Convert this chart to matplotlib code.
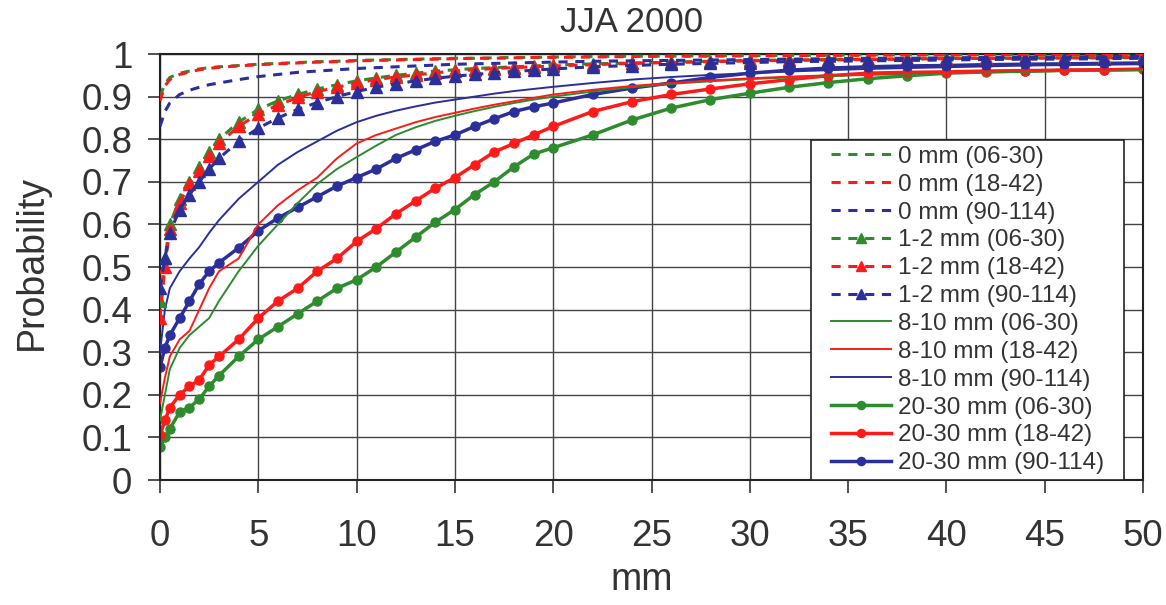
import matplotlib
matplotlib.use("Agg")
import matplotlib.pyplot as plt
from matplotlib.patches import Rectangle

plt.rcParams['font.family'] = ['Liberation Sans', 'DejaVu Sans']

x_mm = [0, 0.25, 0.5, 1, 1.5, 2, 2.5, 3, 4, 5, 6, 7, 8, 9, 10, 11, 12, 13, 14, 15,
        16, 17, 18, 19, 20, 22, 24, 26, 28, 30, 32, 34, 36, 38, 40, 42, 44, 46, 48, 50]

p0_0630 = [0.900, 0.930, 0.945, 0.955, 0.960, 0.965, 0.968, 0.970, 0.973, 0.976, 0.978, 0.980,
           0.982, 0.983, 0.985, 0.986, 0.987, 0.988, 0.989, 0.990, 0.990, 0.991, 0.992, 0.992,
           0.993, 0.994, 0.995, 0.995, 0.996, 0.996, 0.997, 0.997, 0.998, 0.998, 0.998, 0.999,
           0.999, 0.999, 0.999, 1.000]
p0_1842 = [0.890, 0.925, 0.940, 0.952, 0.958, 0.963, 0.966, 0.969, 0.972, 0.975, 0.977, 0.979,
           0.981, 0.982, 0.984, 0.985, 0.986, 0.987, 0.988, 0.989, 0.990, 0.990, 0.991, 0.992,
           0.992, 0.993, 0.994, 0.995, 0.995, 0.996, 0.996, 0.997, 0.997, 0.998, 0.998, 0.998,
           0.999, 0.999, 0.999, 1.000]
p0_90114 = [0.830, 0.865, 0.885, 0.905, 0.915, 0.922, 0.928, 0.932, 0.940, 0.947, 0.952, 0.957,
            0.960, 0.963, 0.966, 0.968, 0.970, 0.972, 0.974, 0.976, 0.977, 0.978, 0.979, 0.980,
            0.981, 0.983, 0.984, 0.985, 0.986, 0.987, 0.988, 0.989, 0.990, 0.990, 0.991, 0.992,
            0.993, 0.993, 0.994, 0.995]

p12_0630 = [0.420, 0.520, 0.600, 0.660, 0.700, 0.735, 0.770, 0.800, 0.840, 0.870, 0.890, 0.905,
            0.918, 0.928, 0.937, 0.944, 0.950, 0.955, 0.960, 0.963, 0.966, 0.968, 0.970, 0.972,
            0.974, 0.977, 0.979, 0.981, 0.983, 0.985, 0.986, 0.987, 0.988, 0.989, 0.990, 0.990,
            0.991, 0.991, 0.992, 0.992]
p12_1842 = [0.380, 0.500, 0.590, 0.650, 0.695, 0.725, 0.760, 0.790, 0.830, 0.860, 0.880, 0.898,
            0.912, 0.922, 0.932, 0.940, 0.946, 0.951, 0.956, 0.960, 0.963, 0.966, 0.968, 0.970,
            0.972, 0.975, 0.978, 0.980, 0.982, 0.984, 0.985, 0.986, 0.987, 0.988, 0.989, 0.990,
            0.990, 0.991, 0.991, 0.992]
p12_90114 = [0.450, 0.520, 0.580, 0.635, 0.670, 0.700, 0.730, 0.755, 0.795, 0.826, 0.850, 0.870,
             0.886, 0.900, 0.912, 0.922, 0.930, 0.937, 0.943, 0.948, 0.952, 0.956, 0.959, 0.962,
             0.965, 0.970, 0.973, 0.976, 0.978, 0.980, 0.982, 0.983, 0.984, 0.985, 0.986, 0.987,
             0.988, 0.988, 0.989, 0.990]

p810_0630 = [0.140, 0.200, 0.260, 0.310, 0.340, 0.360, 0.380, 0.420, 0.490, 0.550, 0.600, 0.650,
             0.695, 0.730, 0.758, 0.785, 0.810, 0.828, 0.843, 0.855, 0.866, 0.876, 0.885, 0.893,
             0.900, 0.912, 0.922, 0.930, 0.936, 0.941, 0.945, 0.948, 0.951, 0.953, 0.955, 0.957,
             0.958, 0.960, 0.961, 0.962]
p810_1842 = [0.180, 0.240, 0.290, 0.330, 0.350, 0.400, 0.450, 0.490, 0.520, 0.600, 0.645, 0.680,
             0.710, 0.755, 0.790, 0.810, 0.825, 0.840, 0.852, 0.862, 0.872, 0.881, 0.889, 0.897,
             0.905, 0.916, 0.925, 0.932, 0.938, 0.943, 0.947, 0.950, 0.953, 0.955, 0.957, 0.959,
             0.961, 0.962, 0.963, 0.965]
p810_90114 = [0.300, 0.400, 0.450, 0.490, 0.520, 0.547, 0.580, 0.610, 0.660, 0.700, 0.740, 0.770,
              0.795, 0.820, 0.840, 0.855, 0.867, 0.877, 0.886, 0.893, 0.900, 0.907, 0.913, 0.918,
              0.923, 0.932, 0.940, 0.946, 0.951, 0.955, 0.959, 0.962, 0.965, 0.967, 0.969, 0.971,
              0.973, 0.974, 0.975, 0.976]

p2030_0630 = [0.077, 0.100, 0.120, 0.160, 0.170, 0.190, 0.220, 0.245, 0.290, 0.330, 0.360, 0.390,
              0.420, 0.450, 0.470, 0.500, 0.535, 0.570, 0.605, 0.635, 0.670, 0.700, 0.735, 0.765,
              0.780, 0.810, 0.845, 0.873, 0.893, 0.908, 0.922, 0.933, 0.942, 0.949, 0.955, 0.958,
              0.960, 0.962, 0.963, 0.964]
p2030_1842 = [0.105, 0.140, 0.170, 0.200, 0.220, 0.235, 0.270, 0.290, 0.330, 0.380, 0.420, 0.450,
              0.490, 0.520, 0.560, 0.590, 0.625, 0.655, 0.685, 0.710, 0.740, 0.770, 0.790, 0.810,
              0.830, 0.865, 0.888, 0.905, 0.918, 0.930, 0.940, 0.949, 0.955, 0.957, 0.958, 0.960,
              0.961, 0.962, 0.963, 0.964]
p2030_90114 = [0.265, 0.310, 0.340, 0.380, 0.420, 0.460, 0.490, 0.510, 0.545, 0.585, 0.615, 0.640,
               0.665, 0.690, 0.710, 0.730, 0.755, 0.775, 0.795, 0.810, 0.830, 0.848, 0.865, 0.876,
               0.885, 0.905, 0.920, 0.932, 0.945, 0.955, 0.962, 0.967, 0.970, 0.972, 0.973, 0.975,
               0.976, 0.977, 0.978, 0.979]

labels = ["0 mm (06-30)", "0 mm (18-42)", "0 mm (90-114)",
          "1-2 mm (06-30)", "1-2 mm (18-42)", "1-2 mm (90-114)",
          "8-10 mm (06-30)", "8-10 mm (18-42)", "8-10 mm (90-114)",
          "20-30 mm (06-30)", "20-30 mm (18-42)", "20-30 mm (90-114)"]
series = [p0_0630, p0_1842, p0_90114, p12_0630, p12_1842, p12_90114,
          p810_0630, p810_1842, p810_90114, p2030_0630, p2030_1842, p2030_90114]
yticklabels = ["0", "0.1", "0.2", "0.3", "0.4", "0.5", "0.6", "0.7", "0.8", "0.9", "1"]

GREEN = "#2e8b2e"
RED = "#ff1a1a"
BLUE = "#2b2f9a"
colors = [GREEN, RED, BLUE] * 4
TXT = "#333333"

fig = plt.figure(figsize=(11.66, 6.05), dpi=100)
ax = fig.add_axes([0.1372, 0.2066, 0.8431, 0.7041])

order = [9, 10, 11, 6, 7, 8, 3, 4, 5, 0, 1, 2]
handles = {}
for i in order:
    c = colors[i]
    grp = i // 3
    if grp == 0:
        h, = ax.plot(x_mm, series[i], color=c, lw=2.2, ls=(0, (3, 2.5)), zorder=5)
    elif grp == 1:
        h, = ax.plot(x_mm, series[i], color=c, lw=2.2, ls=(0, (3, 2.5)), marker='^',
                     ms=8.5, mec=c, mfc=c, zorder=4)
    elif grp == 2:
        h, = ax.plot(x_mm, series[i], color=c, lw=1.4, ls='-', zorder=3)
    else:
        h, = ax.plot(x_mm, series[i], color=c, lw=2.5, ls='-', marker='o',
                     ms=6.5, mec=c, mfc=c, zorder=2)
    handles[i] = h

ax.set_xlim(0, 50)
ax.set_ylim(0, 1)
ax.set_xticks(range(0, 51, 5))
ax.set_yticks([i / 10 for i in range(11)])
ax.set_yticklabels(yticklabels)
ax.grid(True, color="#444444", lw=1.0)
ax.set_axisbelow(True)
for s in ax.spines.values():
    s.set_color("#222222")
    s.set_linewidth(1.5)
ax.tick_params(axis='both', direction='out', length=9, width=1.2, color="#333333",
               labelsize=26.5, labelcolor=TXT)
ax.tick_params(axis='x', pad=19)
ax.tick_params(axis='y', pad=11)

ax.set_xlabel("mm", fontsize=27, color=TXT)
ax.xaxis.set_label_coords(0.49, -0.192)
ax.set_ylabel("Probability", fontsize=27, color=TXT)
ax.yaxis.set_label_coords(-0.112, 0.51)
ax.set_title("JJA 2000", fontsize=25, color=TXT, pad=16, x=0.48)

leg = ax.legend([handles[i] for i in range(12)], labels, loc='center',
                bbox_to_anchor=(0.8215, 0.399), borderaxespad=0, fontsize=17.5,
                frameon=False, handlelength=2.45, handletextpad=0.3,
                labelspacing=0.24, borderpad=0.2, markerscale=0.9)
leg.set_zorder(8)
for t in leg.get_texts():
    t.set_color(TXT)

fig.canvas.draw()
bb = leg.get_window_extent()
frame = Rectangle((bb.x0 - 15, bb.y0 - 1), bb.width + 30, bb.height + 2,
                  transform=None, facecolor="white", edgecolor="#222222",
                  lw=1.2, zorder=7, clip_on=False)
ax.add_patch(frame)

fig.savefig("out.png", dpi=100)
